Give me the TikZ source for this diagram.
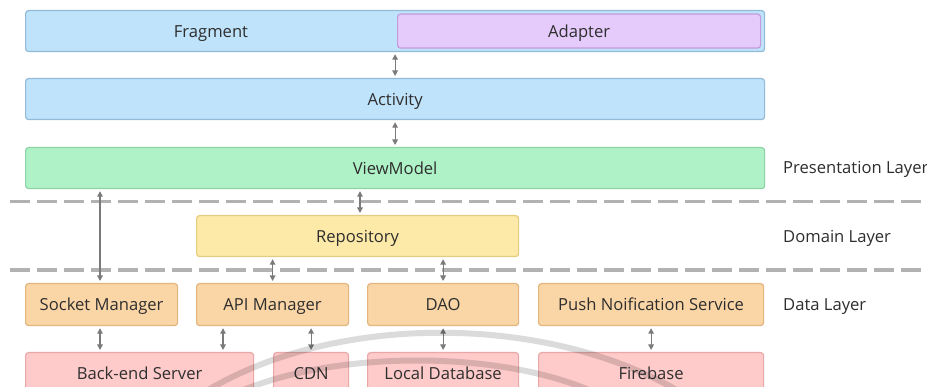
\documentclass[tikz,border=0pt]{standalone}
\usepackage{fontspec}
\setmainfont{Open Sans}
\usetikzlibrary{arrows.meta,calc}
\definecolor{txtc}{HTML}{2E2E2E}
\definecolor{bluef}{HTML}{BEE3FB}
\definecolor{blued}{HTML}{93BAD6}
\definecolor{purpf}{HTML}{E4CBFB}
\definecolor{purpd}{HTML}{C49CDB}
\definecolor{greenf}{HTML}{AFF2C7}
\definecolor{greend}{HTML}{8DD3A5}
\definecolor{yellf}{HTML}{FDE9A8}
\definecolor{yelld}{HTML}{E5CD80}
\definecolor{orf}{HTML}{FAD5A6}
\definecolor{ord}{HTML}{E2B67E}
\definecolor{pinkf}{HTML}{FECACA}
\definecolor{pinkd}{HTML}{E8A8A8}
\definecolor{arrc}{HTML}{7A7A7A}
\definecolor{dashc}{HTML}{B2B2B2}
\tikzset{
  box/.style={draw, line width=1.2pt, rounded corners=3pt, anchor=north west,
    inner sep=0pt, text=txtc, font=\fontsize{16.6}{19}\selectfont,
    text height=12pt, text depth=0pt},
  bluebox/.style={box, fill=bluef, draw=blued},
  purpbox/.style={box, fill=purpf, draw=purpd},
  greenbox/.style={box, fill=greenf, draw=greend},
  yellbox/.style={box, fill=yellf, draw=yelld},
  orbox/.style={box, fill=orf, draw=ord},
  pinkbox/.style={box, fill=pinkf, draw=pinkd},
  txt/.style={text=txtc, font=\fontsize{16.6}{19}\selectfont, inner sep=0pt,
    text height=12pt, text depth=0pt},
  layerlabel/.style={txt, anchor=west},
  biarrow/.style={draw=arrc, line width=1.2pt,
    {Triangle[length=5.5pt,width=5.5pt]}-{Triangle[length=5.5pt,width=5.5pt]},
    shorten <=2pt, shorten >=2pt},
  layerline/.style={draw=dashc, line width=3.5pt, dash pattern=on 20pt off 7pt},
  watermark/.style={draw=black, opacity=0.14, line width=6pt}
}
\begin{document}
\begin{tikzpicture}[x=1pt,y=-1pt]
\useasboundingbox[fill=white] (0,0) rectangle (927,387);

% separators
\draw[layerline] (10,201.7) -- (940,201.7);
\draw[layerline] (10,270) -- (940,270);

% presentation
\node[bluebox, minimum width=739pt, minimum height=41pt] (fragment) at (25,10) {};
\node[purpbox, minimum width=363pt, minimum height=34pt] (adapter) at (397,13.5) {Adapter};
\node[txt] (fragtext) at ($(fragment.west)!0.5!(adapter.west)$) {Fragment};
\node[bluebox, minimum width=739pt, minimum height=41pt] (activity) at (25,78) {Activity};
\node[greenbox, minimum width=739pt, minimum height=41pt] (viewmodel) at (25,147) {ViewModel};

% domain
\node[yellbox, minimum width=322pt, minimum height=41pt] (repo) at (196,215) {Repository};

% data
\node[orbox, minimum width=152pt, minimum height=42pt] (socket) at (25,283) {Socket Manager};
\node[orbox, minimum width=152pt, minimum height=42pt] (api) at (196,283) {API Manager};
\node[orbox, minimum width=151pt, minimum height=42pt] (dao) at (367,283) {DAO};
\node[orbox, minimum width=225pt, minimum height=42pt] (push) at (538,283) {Push Noification Service};

% sources
\node[pinkbox, minimum width=228pt, minimum height=41pt] (backend) at (25,352) {Back-end Server};
\node[pinkbox, minimum width=75pt, minimum height=41pt] (cdn) at (273,352) {CDN};
\node[pinkbox, minimum width=151pt, minimum height=41pt] (localdb) at (367,352) {Local Database};
\node[pinkbox, minimum width=225pt, minimum height=41pt] (firebase) at (538,352) {Firebase};

% layer labels
\node[layerlabel] (lpres) at (783,167.5) {Presentation Layer};
\node[layerlabel] (ldom) at (783,237) {Domain Layer};
\node[layerlabel] (ldata) at (783,305) {Data Layer};

% connectors
\draw[biarrow] (fragment.south) -- (activity.north);
\draw[biarrow] (activity.south) -- (viewmodel.north);
\draw[biarrow] (viewmodel.south -| 360,0) -- (repo.north -| 360,0);
\draw[biarrow] (viewmodel.south -| 100,0) -- (socket.north -| 100,0);
\draw[biarrow] (repo.south -| api.north) -- (api.north);
\draw[biarrow] (repo.south -| dao.north) -- (dao.north);
\draw[biarrow] (socket.south -| 100,0) -- (backend.north -| 100,0);
\draw[biarrow] (api.south -| 223,0) -- (backend.north -| 223,0);
\draw[biarrow] (api.south -| cdn.north) -- (cdn.north);
\draw[biarrow] (dao.south) -- (localdb.north);
\draw[biarrow] (push.south) -- (firebase.north);

% faint watermark arcs
\draw[watermark] (200,395) .. controls (330,312) and (550,312) .. (685,395);
\draw[watermark] (232,395) .. controls (330,349) and (505,349) .. (600,395);
\end{tikzpicture}
\end{document}
